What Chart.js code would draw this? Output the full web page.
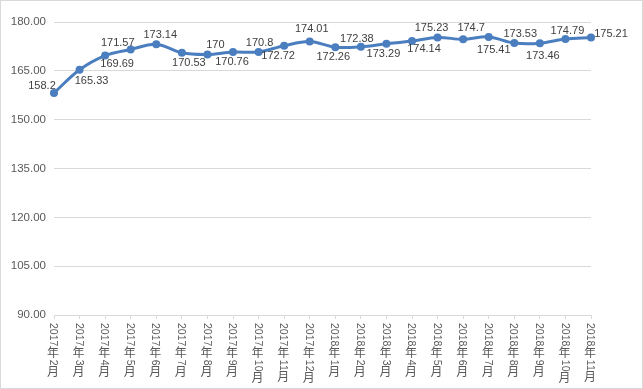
<!DOCTYPE html>
<html>
<head>
<meta charset="utf-8">
<script src="https://cdn.jsdelivr.net/npm/chart.js@4"></script>
<style>
  html, body { margin: 0; padding: 0; background: #fff; }
  #wrap { position: relative; width: 643px; height: 389px; box-sizing: border-box; border: 1px solid #d9d9d9; }
</style>
</head>
<body>
<div id="wrap"><canvas id="priceChart" width="641" height="387"></canvas></div>
<script>
// 月份
const months = [
  "2017年2月", "2017年3月", "2017年4月", "2017年5月", "2017年6月", "2017年7月",
  "2017年8月", "2017年9月", "2017年10月", "2017年11月", "2017年12月",
  "2018年1月", "2018年2月", "2018年3月", "2018年4月", "2018年5月", "2018年6月",
  "2018年7月", "2018年8月", "2018年9月", "2018年10月", "2018年11月"
];

// 数值
const values = [
  158.2, 165.33, 169.69, 171.57, 173.14, 170.53,
  170, 170.76, 170.8, 172.72, 174.01,
  172.26, 172.38, 173.29, 174.14, 175.23, 174.7,
  175.41, 173.53, 173.46, 174.79, 175.21
];

// y轴刻度
const yMin = 90;
const yMax = 180;
const yStep = 15;

// 数据标签相对数据点的偏移 (dx, dy)
const labelOffsets = [
  [-12, -7], [12, 11], [12, 8], [-13, -6], [4, -9], [7, 10],
  [8, -10], [-1, 10], [1, -9], [-6, 10], [2, -13],
  [-2, 10], [-4, -8], [-3, 10], [12, 8], [-6, -10], [8, -11],
  [5, 13], [6, -9], [3, 13], [2, -8], [20, -4]
];

const textColor = "#595959";
const lineColor = "#4a7ebf";

// 数据标签
const valueLabels = {
  id: "valueLabels",
  afterDatasetsDraw(chart) {
    const ctx = chart.ctx;
    const meta = chart.getDatasetMeta(0);
    ctx.save();
    ctx.font = "11px 'Liberation Sans', Arial, sans-serif";
    ctx.fillStyle = "#404040";
    ctx.textAlign = "center";
    ctx.textBaseline = "middle";
    meta.data.forEach((pt, i) => {
      const off = labelOffsets[i];
      ctx.fillText(String(values[i]), pt.x + off[0], pt.y + off[1]);
    });
    ctx.restore();
  }
};

// 竖排x轴标签 (数字旋转, 汉字直立)
const verticalTicks = {
  id: "verticalTicks",
  afterDraw(chart) {
    const ctx = chart.ctx;
    const xs = chart.scales.x;
    const top = xs.top + 8;
    ctx.save();
    ctx.fillStyle = textColor;
    months.forEach((label, i) => {
      const x = xs.getPixelForTick(i) - 1;
      let y = top;
      const parts = label.match(/[0-9]+|[^0-9]/g);
      parts.forEach(p => {
        if (/^[0-9]+$/.test(p)) {
          ctx.font = "10.5px 'Liberation Sans', Arial, sans-serif";
          const w = ctx.measureText(p).width;
          ctx.save();
          ctx.translate(x, y);
          ctx.rotate(Math.PI / 2);
          ctx.textAlign = "left";
          ctx.textBaseline = "middle";
          ctx.fillText(p, 0, 0);
          ctx.restore();
          y += w + 1;
        } else {
          ctx.font = "12px 'Noto Sans CJK SC', sans-serif";
          ctx.textAlign = "center";
          ctx.textBaseline = "top";
          ctx.fillText(p, x, y - 1);
          y += 12.5;
        }
      });
    });
    ctx.restore();
  }
};

const ctx = document.getElementById("priceChart").getContext("2d");
const chart = new Chart(ctx, {
  type: "line",
  data: {
    labels: months,
    datasets: [{
      data: values,
      borderColor: lineColor,
      backgroundColor: lineColor,
      borderWidth: 3,
      pointRadius: 4,
      pointHoverRadius: 4,
      pointBorderWidth: 0,
      tension: 0.35,
      fill: false
    }]
  },
  options: {
    responsive: false,
    animation: false,
    layout: { padding: { top: 21, right: 51, left: 0, bottom: 0 } },
    plugins: {
      legend: { display: false },
      tooltip: { enabled: false }
    },
    scales: {
      x: {
        offset: false,
        grid: {
          drawOnChartArea: false,
          drawTicks: true,
          tickLength: 4,
          color: "#d9d9d9"
        },
        border: { color: "#d9d9d9" },
        ticks: { display: false },
        afterFit(scale) { scale.height = 73; }
      },
      y: {
        min: yMin,
        max: yMax,
        grid: { color: "#d9d9d9", drawTicks: false },
        border: { display: false },
        ticks: {
          stepSize: yStep,
          padding: 8,
          color: textColor,
          font: { family: "'Liberation Sans', Arial, sans-serif", size: 11.5 },
          callback: v => v.toFixed(2)
        },
        afterFit(scale) { scale.width = 53; }
      }
    }
  },
  plugins: [valueLabels, verticalTicks]
});
</script>
</body>
</html>
